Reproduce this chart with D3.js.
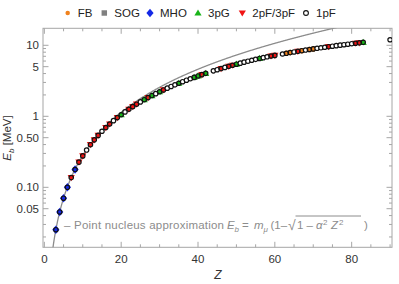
<!DOCTYPE html>
<html>
<head>
<meta charset="utf-8">
<script src="https://cdn.jsdelivr.net/npm/d3@7"></script>
<style>
body { margin: 0; background: #fff; }
text { font-family: "Liberation Sans", Arial, sans-serif; }
</style>
</head>
<body>
<script>
// nuclear charge and 1s binding energy (MeV)
var zs = [3,4,5,6,7,8,9,10,11,12,13,14,15,16,17,18,19,20,21,22,23,24,25,26,27,28,29,30,
  31,32,33,34,35,36,37,38,39,40,41,42,44,45,46,47,48,49,50,51,52,53,54,55,56,57,58,59,60,
  62,63,64,65,66,67,68,69,70,71,72,73,74,75,76,77,78,79,80,81,82,83,90];
var eb = [0.0253,0.0450,0.0703,0.100,0.137,0.178,0.226,0.277,0.335,0.398,0.466,0.538,0.616,0.695,0.779,0.868,0.959,1.052,
  1.153,1.258,1.367,1.480,1.596,1.714,1.835,1.959,2.086,2.217,
  2.351,2.490,2.631,2.775,2.921,3.071,3.222,3.377,3.529,3.699,3.862,4.027,4.364,4.535,4.708,4.884,5.060,5.239,5.419,5.601,5.785,5.969,6.155,6.343,6.522,6.702,6.882,7.062,7.200,
  7.546,7.712,7.889,8.054,8.229,8.391,8.564,8.723,8.895,9.066,9.219,9.387,9.553,9.717,9.880,10.041,10.201,10.358,10.533,10.687,10.839,11.009,11.97];
// extra charge-distribution model shown for each nucleus ("1pF" = only the open circle)
var model = ["MHO","MHO","MHO","MHO","2pF","MHO","2pF","2pF","1pF","2pF","2pF","2pF","1pF","2pF","2pF","1pF","2pF","3pG",
  "1pF","2pF","2pF","2pF","1pF","3pG","2pF","3pG","1pF","3pG",
  "2pF","1pF","1pF","1pF","3pG","1pF","1pF","1pF","3pG","3pG","2pF","3pG","1pF","1pF","2pF","1pF","2pF","2pF","3pG","1pF","1pF","1pF","1pF","1pF","3pG","1pF","1pF","2pF","2pF",
  "1pF","FB","FB","1pF","2pF","FB","1pF","FB","FB","1pF","1pF","1pF","2pF","1pF","1pF","1pF","1pF","1pF","1pF","2pF","2pF","3pG","1pF"];

var legendNames = ["FB","SOG","MHO","3pG","2pF/3pF","1pF"];
var xTicks = [0,20,40,60,80];
var yTicks = [0.05,0.1,0.5,1,5,10];
var yTickLabels = ["0.05","0.10","0.50","1","5","10"];

var mMu = 105.66, alpha = 1/137.036;

var W = 399, H = 284;
var svg = d3.select("body").append("svg").attr("width",W).attr("height",H);

var x = d3.scaleLinear().domain([-0.35,90.5]).range([43,392]);
var y = d3.scaleLog().domain([0.0143,17.35]).range([247.3,28.3]);

var frameCol = "#a6a6a6";

svg.append("defs").append("clipPath").attr("id","clip")
  .append("rect").attr("x",43).attr("y",28.3).attr("width",349).attr("height",219);

// frame
svg.append("rect").attr("x",43).attr("y",28.3).attr("width",349).attr("height",219)
  .attr("fill","none").attr("stroke",frameCol).attr("stroke-width",1);

// x ticks (bottom + top)
var xMinor = d3.range(0,91,5).filter(function(d){ return xTicks.indexOf(d) < 0; });
var g = svg.append("g").attr("stroke",frameCol).attr("stroke-width",1);
xTicks.forEach(function(t){
  g.append("line").attr("x1",x(t)).attr("x2",x(t)).attr("y1",247.3).attr("y2",241.8);
  g.append("line").attr("x1",x(t)).attr("x2",x(t)).attr("y1",28.3).attr("y2",33.8);
});
xMinor.forEach(function(t){
  g.append("line").attr("x1",x(t)).attr("x2",x(t)).attr("y1",247.3).attr("y2",244.3);
  g.append("line").attr("x1",x(t)).attr("x2",x(t)).attr("y1",28.3).attr("y2",31.3);
});
var yMinor = [];
[0.01,0.1,1,10].forEach(function(dec){
  [1,2,3,4,5,6,7,8,9].forEach(function(m){
    var v = +(m*dec).toPrecision(3);
    if (v >= 0.0143 && v <= 17.35 && yTicks.indexOf(v) < 0) yMinor.push(v);
  });
});
yTicks.forEach(function(t){
  g.append("line").attr("x1",43).attr("x2",48.5).attr("y1",y(t)).attr("y2",y(t));
  g.append("line").attr("x1",392).attr("x2",386.5).attr("y1",y(t)).attr("y2",y(t));
});
yMinor.forEach(function(t){
  g.append("line").attr("x1",43).attr("x2",46).attr("y1",y(t)).attr("y2",y(t));
  g.append("line").attr("x1",392).attr("x2",389).attr("y1",y(t)).attr("y2",y(t));
});

// tick labels
svg.selectAll(".xl").data(xTicks).enter().append("text")
  .attr("x",function(d){ return x(d); }).attr("y",263)
  .attr("text-anchor","middle").attr("font-size",11.5).attr("fill","#333")
  .text(function(d){ return d; });
svg.selectAll(".yl").data(yTicks).enter().append("text")
  .attr("x",39).attr("y",function(d){ return y(d)+4; })
  .attr("text-anchor","end").attr("font-size",11.5).attr("fill","#333")
  .text(function(d,i){ return yTickLabels[i]; });

// axis titles
svg.append("text").attr("x",218).attr("y",279).attr("text-anchor","middle")
  .attr("font-size",12).attr("font-style","italic").attr("fill","#333").text("Z");
var yt = svg.append("text").attr("transform","translate(11,138) rotate(-90)")
  .attr("text-anchor","middle").attr("font-size",11.5).attr("fill","#333");
yt.append("tspan").attr("font-style","italic").text("E");
yt.append("tspan").attr("font-style","italic").attr("font-size",8).attr("dy",3).text("b");
yt.append("tspan").attr("dy",-3).text(" [MeV]");

// point nucleus curve
var curveZ = d3.range(2.0, 80, 0.1);
var line = d3.line()
  .x(function(d){ return x(d); })
  .y(function(d){ return y(mMu*(1-Math.sqrt(1-alpha*alpha*d*d))); });
svg.append("path").datum(curveZ).attr("clip-path","url(#clip)")
  .attr("d",line).attr("fill","none").attr("stroke","#8c8c8c").attr("stroke-width",1.3);

// markers
var colors = {FB:"#f0821e", SOG:"#808080", MHO:"#1428e6", "3pG":"#19b419", "2pF":"#f01414", "2pF/3pF":"#f01414"};
function shape(name){
  if (name === "FB") return d3.symbol(d3.symbolCircle, 24)();
  if (name === "SOG") return d3.symbol(d3.symbolSquare, 30)();
  if (name === "MHO") return "M0,-4.2L3.6,0L0,4.2L-3.6,0Z";
  if (name === "3pG") return "M0,-3.6L3.6,2.6L-3.6,2.6Z";
  return "M0,3.6L3.6,-2.6L-3.6,-2.6Z";
}
var pts = zs.map(function(z,i){ return {z:z, e:eb[i], m:model[i]}; });
var mk = svg.append("g").attr("clip-path","url(#clip)");
mk.selectAll(".ext").data(pts.filter(function(d){ return d.m !== "1pF"; })).enter()
  .append("path").attr("d",function(d){ return shape(d.m); })
  .attr("transform",function(d){ return "translate("+x(d.z)+","+y(d.e)+")"; })
  .attr("fill",function(d){ return colors[d.m]; });
mk.selectAll(".pf").data(pts).enter().append("circle")
  .attr("cx",function(d){ return x(d.z); }).attr("cy",function(d){ return y(d.e); })
  .attr("r",2.2)
  .attr("fill",function(d){ return d.m === "1pF" ? "#fff" : "none"; })
  .attr("stroke","#111").attr("stroke-width",1.2);

// legend
var legX = [67.7,104.3,150,198,242.3,306];
legendNames.forEach(function(n,i){
  var lg = svg.append("g").attr("transform","translate("+legX[i]+",13)");
  if (n === "1pF") {
    lg.append("circle").attr("r",2.4).attr("fill","#fff").attr("stroke","#111").attr("stroke-width",1.1);
  } else {
    lg.append("path").attr("d", n === "FB" ? d3.symbol(d3.symbolCircle, 16)() : shape(n))
      .attr("fill",colors[n]);
  }
  svg.append("text").attr("x",legX[i]+10).attr("y",17.3).attr("font-size",11.5)
    .attr("fill","#222").text(n);
});

// annotation
var annCol = "#8c8c8c";
svg.append("text").attr("x",64).attr("y",229).attr("font-size",11.5).attr("fill",annCol)
  .attr("textLength",160).attr("lengthAdjust","spacing")
  .text("\u2013 Point nucleus approximation");
function ft(xp, str, opts){
  var t = svg.append("text").attr("x",xp).attr("y",229 + (opts && opts.dy || 0))
    .attr("font-size", opts && opts.size || 11.5).attr("fill",annCol).text(str);
  if (opts && opts.it) t.attr("font-style","italic");
  return t;
}
ft(227, "E", {it:true});
ft(234.5, "b", {it:true, size:8, dy:2.5});
ft(242, "=");
ft(254, "m", {it:true});
ft(263.5, "\u03bc", {it:true, size:8, dy:2.5});
ft(270.5, "(1\u2013");
ft(288, "\u221a", {size:14, dy:1});
ft(297, "1 \u2013");
ft(316, "\u03b1", {it:true});
ft(323, "2", {size:8, dy:-4});
ft(331, "Z", {it:true});
ft(339, "2", {size:8, dy:-4});
ft(364, ")");
// overbar of the root
svg.append("line").attr("x1",295.5).attr("x2",361).attr("y1",216).attr("y2",216)
  .attr("stroke",annCol).attr("stroke-width",1);
</script>
</body>
</html>
